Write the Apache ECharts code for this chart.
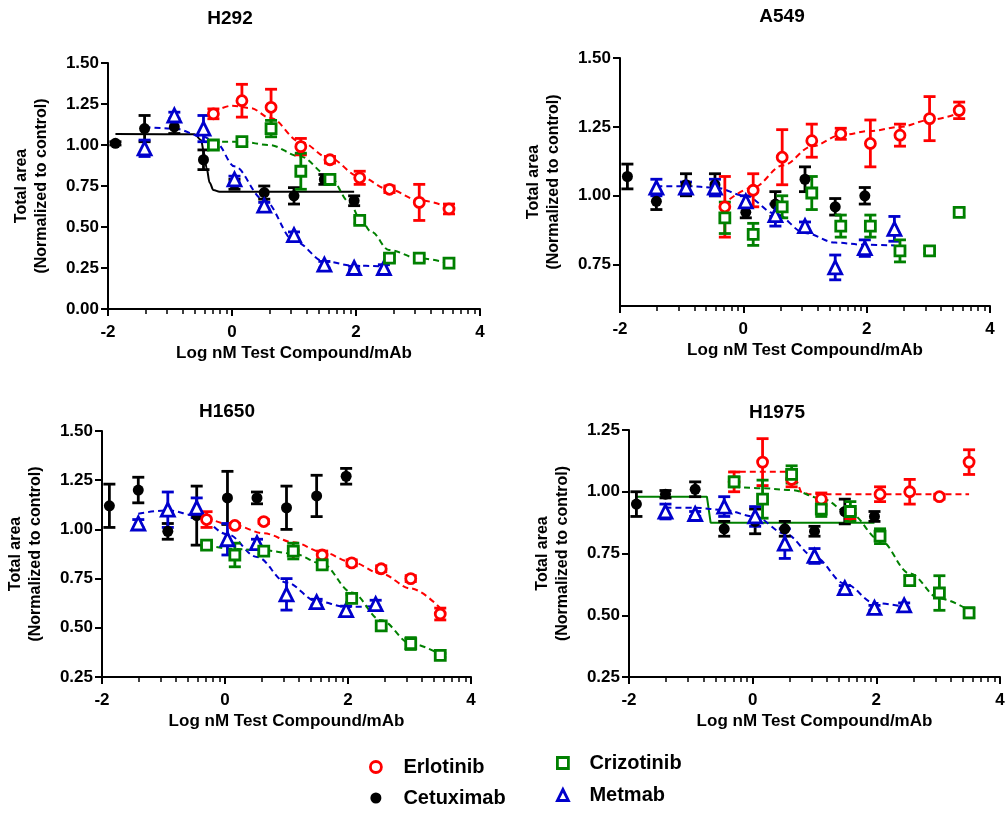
<!DOCTYPE html>
<html><head><meta charset="utf-8">
<script src="https://cdn.jsdelivr.net/npm/echarts@6/dist/echarts.min.js"></script>
<style>html,body{margin:0;padding:0;background:#fff}#c{width:1008px;height:814px}</style>
</head><body><div id="c"></div>
<script>
// ---------------- DATA ----------------
const panels = ['H292', 'A549', 'H1650', 'H1975'];
const drugs = ['Cetuximab', 'Metmab', 'Erlotinib', 'Crizotinib'];
// log nM doses
const doseTki = [-0.3, 0.16, 0.63, 1.11, 1.58, 2.06, 2.54, 3.02, 3.5];   // Erlotinib, Crizotinib
const doseCet = [-1.88, -1.41, -0.93, -0.46, 0.04, 0.52, 1.0, 1.49, 1.97]; // Cetuximab
const doseMet = [-1.41, -0.93, -0.46, 0.04, 0.52, 1.0, 1.49, 1.97, 2.45];  // Metmab
const xTickLabels = [-2, 0, 2, 4];

// H292
const h292ErlY = [1.19, 1.27, 1.23, 0.99, 0.91, 0.80, 0.73, 0.65, 0.61];
const h292ErlE = [0.03, 0.10, 0.11, 0.05, 0.02, 0.04, 0.02, 0.11, 0.03];
const h292CrzY = [1.00, 1.02, 1.10, 0.84, 0.79, 0.54, 0.31, 0.31, 0.28];
const h292CrzE = [0.02, 0.02, 0.05, 0.11, 0.03, 0.02, 0.02, 0.02, 0.02];
const h292CetY = [1.01, 1.10, 1.11, 0.91, 0.76, 0.71, 0.69, 0.79, 0.66];
const h292CetE = [0.01, 0.08, 0.04, 0.06, 0.03, 0.04, 0.05, 0.03, 0.03];
const h292MetY = [0.98, 1.18, 1.10, 0.79, 0.63, 0.45, 0.27, 0.25, 0.25];
const h292MetE = [0.05, 0.02, 0.08, 0.02, 0.02, 0.02, 0.02, 0.01, 0.02];
const h292ErlFit = [[-0.3,1.20],[0,1.24],[0.3,1.225],[0.62,1.165],[1.1,1.02],[1.57,0.92],[2.05,0.81],[2.53,0.73],[3.0,0.665],[3.5,0.62]];
const h292CrzFit = [[-0.32,1.02],[0.15,1.02],[0.6,1.0],[1.1,0.93],[1.57,0.81],[1.9,0.65],[2.05,0.56],[2.25,0.47],[2.53,0.36],[3.0,0.31],[3.5,0.28]];
const h292MetFit = [[-1.41,1.11],[-0.93,1.10],[-0.46,1.05],[-0.25,1.01],[0.04,0.87],[0.51,0.667],[1.02,0.41],[1.49,0.29],[1.97,0.264],[2.45,0.26]];
const h292CetFit = [[-1.88,1.067],[-0.6,1.065],[-0.5,1.03],[-0.45,0.95],[-0.41,0.86],[-0.36,0.77],[-0.3,0.725],[-0.2,0.715],[1.97,0.715]];

// A549
const a549ErlY = [0.96, 1.02, 1.14, 1.20, 1.225, 1.19, 1.22, 1.28, 1.31];
const a549ErlE = [0.11, 0.06, 0.10, 0.06, 0.02, 0.085, 0.04, 0.08, 0.03];
const a549CrzY = [0.92, 0.86, 0.96, 1.01, 0.89, 0.89, 0.80, 0.80, 0.94];
const a549CrzE = [0.057, 0.04, 0.04, 0.06, 0.04, 0.04, 0.04, 0.01, 0.015];
const a549CetY = [1.07, 0.98, 1.04, 1.04, 0.94, 0.97, 1.06, 0.96, 1.00];
const a549CetE = [0.045, 0.03, 0.04, 0.04, 0.02, 0.045, 0.045, 0.03, 0.03];
const a549MetY = [1.03, 1.03, 1.03, 0.98, 0.93, 0.89, 0.74, 0.81, 0.88];
const a549MetE = [0.03, 0.02, 0.03, 0.02, 0.04, 0.015, 0.045, 0.03, 0.045];
const a549ErlFit = [[-0.35,0.965],[0.16,1.03],[0.64,1.11],[1.12,1.18],[1.58,1.22],[2.06,1.235],[2.54,1.25],[3.02,1.275],[3.5,1.30]];
const a549MetFit = [[-1.41,1.035],[-0.93,1.035],[-0.46,1.03],[0.03,1.0],[0.52,0.935],[1.0,0.865],[1.49,0.83],[1.97,0.822],[2.45,0.82]];

// H1650
const h1650ErlY = [1.05, 1.02, 1.04, 0.89, 0.87, 0.83, 0.80, 0.75, 0.57];
const h1650ErlE = [0.04, 0.01, 0.01, 0.02, 0.02, 0.015, 0.015, 0.015, 0.03];
const h1650CrzY = [0.92, 0.87, 0.89, 0.89, 0.82, 0.65, 0.51, 0.42, 0.36];
const h1650CrzE = [0.015, 0.06, 0.015, 0.04, 0.02, 0.02, 0.015, 0.03, 0.01];
const h1650CetY = [1.12, 1.20, 0.99, 1.07, 1.16, 1.16, 1.11, 1.17, 1.27];
const h1650CetE = [0.11, 0.065, 0.04, 0.15, 0.135, 0.03, 0.11, 0.105, 0.04];
const h1650MetY = [1.03, 1.10, 1.11, 0.95, 0.93, 0.67, 0.63, 0.59, 0.62];
const h1650MetE = [0.02, 0.09, 0.05, 0.08, 0.02, 0.08, 0.015, 0.02, 0.02];
const h1650ErlFit = [[-0.3,1.06],[0.16,1.02],[0.63,0.98],[1.11,0.935],[1.58,0.885],[2.06,0.834],[2.54,0.775],[3.02,0.70],[3.5,0.60]];
const h1650CrzFit = [[-0.3,0.92],[0.16,0.90],[0.63,0.894],[1.11,0.877],[1.58,0.826],[2.06,0.68],[2.54,0.538],[3.02,0.42],[3.5,0.365]];
const h1650MetFit = [[-1.41,1.08],[-0.93,1.097],[-0.46,1.07],[0.04,0.975],[0.52,0.86],[1.0,0.73],[1.49,0.636],[1.97,0.606],[2.45,0.61]];

// H1975
const h1975ErlY = [1.04, 1.12, 1.05, 0.97, 0.91, 0.99, 1.00, 0.98, 1.12];
const h1975ErlE = [0.04, 0.095, 0.03, 0.025, 0.02, 0.03, 0.05, 0.01, 0.05];
const h1975CrzY = [1.04, 0.97, 1.07, 0.93, 0.92, 0.82, 0.64, 0.59, 0.51];
const h1975CrzE = [0.02, 0.077, 0.035, 0.03, 0.04, 0.03, 0.02, 0.07, 0.02];
const h1975CetY = [0.95, 0.99, 1.01, 0.85, 0.88, 0.85, 0.84, 0.92, 0.90];
const h1975CetE = [0.05, 0.015, 0.03, 0.03, 0.05, 0.03, 0.02, 0.05, 0.02];
const h1975MetY = [0.92, 0.91, 0.94, 0.90, 0.79, 0.74, 0.61, 0.53, 0.54];
const h1975MetE = [0.03, 0.01, 0.04, 0.04, 0.06, 0.03, 0.01, 0.01, 0.01];
const h1975ErlFit = [[-0.37,1.081],[0.66,1.081],[0.72,1.04],[0.78,1.0],[0.9,0.99],[3.5,0.99]];
const h1975CrzFit = [[-0.3,1.02],[0.16,1.014],[0.63,1.007],[1.11,0.973],[1.58,0.912],[2.06,0.804],[2.54,0.669],[3.02,0.568],[3.5,0.52]];
const h1975CetFit = [[-1.87,0.98],[-0.74,0.98],[-0.68,0.875],[1.97,0.875]];
const h1975MetFit = [[-1.41,0.936],[-0.93,0.935],[-0.46,0.926],[0.04,0.899],[0.52,0.831],[1.0,0.736],[1.49,0.628],[1.97,0.55],[2.45,0.534]];

// y axis ranges / tick labels
const yRanges = [[0, 1.5], [0.6, 1.5], [0.25, 1.5], [0.25, 1.25]];
const a549YTicks = [0.75, 1.0, 1.25, 1.5];

// --------------- assemble tables ---------------
const doses = { Erlotinib: doseTki, Crizotinib: doseTki, Cetuximab: doseCet, Metmab: doseMet };
const table = {
  H292:  { Erlotinib: [h292ErlY, h292ErlE, h292ErlFit], Crizotinib: [h292CrzY, h292CrzE, h292CrzFit], Cetuximab: [h292CetY, h292CetE, h292CetFit], Metmab: [h292MetY, h292MetE, h292MetFit] },
  A549:  { Erlotinib: [a549ErlY, a549ErlE, a549ErlFit], Crizotinib: [a549CrzY, a549CrzE, null], Cetuximab: [a549CetY, a549CetE, null], Metmab: [a549MetY, a549MetE, a549MetFit] },
  H1650: { Erlotinib: [h1650ErlY, h1650ErlE, h1650ErlFit], Crizotinib: [h1650CrzY, h1650CrzE, h1650CrzFit], Cetuximab: [h1650CetY, h1650CetE, null], Metmab: [h1650MetY, h1650MetE, h1650MetFit] },
  H1975: { Erlotinib: [h1975ErlY, h1975ErlE, h1975ErlFit], Crizotinib: [h1975CrzY, h1975CrzE, h1975CrzFit], Cetuximab: [h1975CetY, h1975CetE, h1975CetFit], Metmab: [h1975MetY, h1975MetE, h1975MetFit] }
};

// --------------- styles / layout ---------------
const FONT = '"Liberation Sans", Arial, sans-serif';
const RED = '#ff0000', BLACK = '#000000', GREEN = '#008000', BLUE = '#0000cc';
const drugStyle = {
  Erlotinib:  { color: RED,   symbol: 'circle',   size: 10, hollow: true },
  Cetuximab:  { color: BLACK, symbol: 'circle',   size: 11, hollow: false },
  Crizotinib: { color: GREEN, symbol: 'rect',     size: 10, hollow: true },
  Metmab:     { color: BLUE,  symbol: 'triangle', size: 13, hollow: true }
};
// fit line overrides (color/type/smooth) per panel
const fitStyle = {
  H292:  { Cetuximab: { color: BLACK, type: 'solid', smooth: 0.35 } },
  H1975: { Cetuximab: { color: GREEN, type: 'solid', smooth: false }, Erlotinib: { color: RED, type: 'dashed', smooth: false } }
};
const grids = [
  { left: 108, top: 63, width: 372, height: 246 },
  { left: 620, top: 58, width: 370, height: 248 },
  { left: 102, top: 431, width: 369, height: 246 },
  { left: 629, top: 430, width: 371, height: 247 }
];
const titlePos = [[230, 19], [782, 17], [227, 412], [777, 413]];

// log-style minor ticks inside each 2-unit decade
const minorTicks = [];
[-2, 0, 2].forEach(b => { for (let k = 2; k <= 9; k++) minorTicks.push(b + 2 * Math.log10(k)); });

function errRender(color) {
  return function (params, api) {
    const x = api.value(0), y = api.value(1), e = api.value(2);
    const p1 = api.coord([x, y + e]), p2 = api.coord([x, y - e]);
    const hw = 6;
    const st = { stroke: color, lineWidth: 2.8 };
    return { type: 'group', children: [
      { type: 'line', shape: { x1: p1[0], y1: p1[1], x2: p2[0], y2: p2[1] }, style: st },
      { type: 'line', shape: { x1: p1[0] - hw, y1: p1[1], x2: p1[0] + hw, y2: p1[1] }, style: st },
      { type: 'line', shape: { x1: p2[0] - hw, y1: p2[1], x2: p2[0] + hw, y2: p2[1] }, style: st }
    ]};
  };
}

const xAxes = [], yAxes = [], series = [], graphics = [];
panels.forEach((p, i) => {
  xAxes.push({
    type: 'value', gridIndex: i, min: -2, max: 4, interval: 2,
    axisLine: { show: true, onZero: false, lineStyle: { color: '#000', width: 2 } },
    axisTick: { show: true, length: 7, lineStyle: { color: '#000', width: 2 } },
    axisLabel: { color: '#000', fontFamily: FONT, fontWeight: 'bold', fontSize: 17, margin: 15, customValues: xTickLabels },
    splitLine: { show: false },
    name: 'Log nM Test Compound/mAb', nameLocation: 'middle', nameGap: 36,
    nameTextStyle: { color: '#000', fontFamily: FONT, fontWeight: 'bold', fontSize: 17 }
  });
  xAxes.push({
    type: 'value', gridIndex: i, min: -2, max: 4, position: 'bottom',
    axisLine: { show: false, onZero: false },
    axisLabel: { show: false },
    splitLine: { show: false },
    axisTick: { show: true, length: 5, customValues: minorTicks, lineStyle: { color: '#000', width: 1.5 } }
  });
  const yr = yRanges[i];
  const y = {
    type: 'value', gridIndex: i, min: yr[0], max: yr[1],
    axisLine: { show: true, onZero: false, lineStyle: { color: '#000', width: 2 } },
    axisTick: { show: true, length: 7, lineStyle: { color: '#000', width: 2 } },
    axisLabel: { color: '#000', fontFamily: FONT, fontWeight: 'bold', fontSize: 17, margin: 9, formatter: v => v.toFixed(2) },
    splitLine: { show: false },
    name: 'Total area\n(Normalized to control)', nameLocation: 'middle', nameGap: 56,
    nameTextStyle: { color: '#000', fontFamily: FONT, fontWeight: 'bold', fontSize: 16, lineHeight: 20 }
  };
  if (p === 'A549') {
    y.axisLabel.customValues = a549YTicks;
    y.axisTick.customValues = a549YTicks;
  } else {
    y.interval = 0.25;
  }
  yAxes.push(y);

  graphics.push({ type: 'text', x: titlePos[i][0], y: titlePos[i][1],
    style: { text: p, font: 'bold 19px ' + FONT, fill: '#000', textAlign: 'center', textVerticalAlign: 'middle', align: 'center', verticalAlign: 'middle' } });

  drugs.forEach(d => {
    const [ys, es, fit] = table[p][d];
    const st = drugStyle[d];
    const xs = doses[d];
    if (fit) {
      const fs = (fitStyle[p] && fitStyle[p][d]) || { color: st.color, type: 'dashed', smooth: 0.35 };
      series.push({
        type: 'line', name: d, xAxisIndex: 2 * i, yAxisIndex: i, data: fit,
        smooth: fs.smooth, smoothMonotone: 'x', symbol: 'none', silent: true, z: 2,
        lineStyle: { color: fs.color, width: 2, type: fs.type === 'dashed' ? [6, 4] : 'solid' }
      });
    }
    const rows = [], pts = [];
    ys.forEach((v, k) => { if (v != null) { rows.push([xs[k], v, es[k]]); pts.push([xs[k], v]); } });
    series.push({
      type: 'custom', name: d, xAxisIndex: 2 * i, yAxisIndex: i, data: rows,
      encode: { x: 0, y: 1 }, renderItem: errRender(st.color), silent: true, z: 3
    });
    series.push({
      type: 'scatter', name: d, xAxisIndex: 2 * i, yAxisIndex: i, data: pts,
      symbol: st.symbol, symbolSize: st.size, silent: true, z: 4,
      itemStyle: { color: st.hollow ? '#ffffff' : st.color, borderColor: st.color, borderWidth: st.hollow ? 2.8 : 0, opacity: 1 }
    });
  });
});

const legendText = { color: '#000', fontFamily: FONT, fontWeight: 'bold', fontSize: 20, lineHeight: 20 };
const legendItem = d => {
  const st = drugStyle[d];
  return { name: d, icon: st.symbol, itemStyle: { color: st.hollow ? '#fff' : st.color, borderColor: st.color, borderWidth: st.hollow ? 2.8 : 0 } };
};

const option = {
  backgroundColor: '#fff',
  animation: false,
  grid: grids.map(g => Object.assign({ containLabel: false }, g)),
  xAxis: xAxes,
  yAxis: yAxes,
  graphic: graphics,
  legend: [
    { orient: 'vertical', left: 369, top: 757, height: 80, padding: 0, itemWidth: 11, itemHeight: 11, itemGap: 11, selectedMode: false,
      data: [legendItem('Erlotinib'), legendItem('Cetuximab')],
      textStyle: Object.assign({ padding: [0, 0, 0, 17] }, legendText) },
    { orient: 'vertical', left: 556, top: 753, height: 80, padding: 0, itemWidth: 11, itemHeight: 11, itemGap: 12, selectedMode: false,
      data: [legendItem('Crizotinib'), legendItem('Metmab')],
      textStyle: Object.assign({ padding: [0, 0, 0, 16] }, legendText) }
  ],
  series: series
};
const chart = echarts.init(document.getElementById('c'), null, { renderer: 'canvas' });
chart.setOption(option);
</script></body></html>
